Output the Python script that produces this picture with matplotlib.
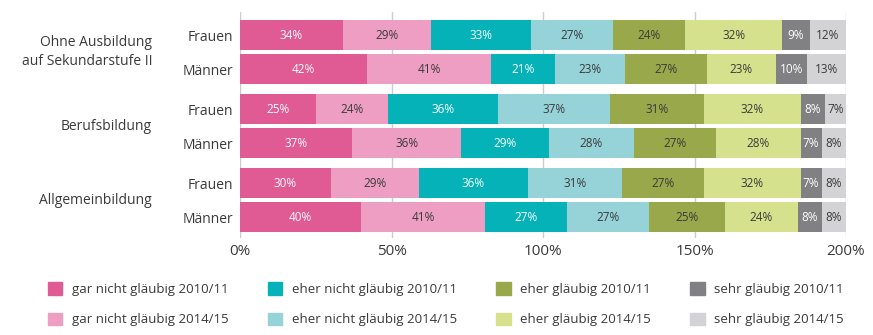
import matplotlib.pyplot as plt
from matplotlib.patches import Patch

plt.rcParams['font.family'] = ['Open Sans', 'DejaVu Sans']

# row labels and groups
groups = ['Ohne Ausbildung\nauf Sekundarstufe II', 'Berufsbildung', 'Allgemeinbildung']
rows = ['Frauen', 'Männer']

# values per row (top to bottom), in percent
gar_10 = [34, 42, 25, 37, 30, 40]
gar_14 = [29, 41, 24, 36, 29, 41]
ehernicht_10 = [33, 21, 36, 29, 36, 27]
ehernicht_14 = [27, 23, 37, 28, 31, 27]
eher_10 = [24, 27, 31, 27, 27, 25]
eher_14 = [32, 23, 32, 28, 32, 24]
sehr_10 = [9, 10, 8, 7, 7, 8]
sehr_14 = [12, 13, 7, 8, 8, 8]

series = [gar_10, gar_14, ehernicht_10, ehernicht_14, eher_10, eher_14, sehr_10, sehr_14]
names = ['gar nicht gläubig 2010/11', 'gar nicht gläubig 2014/15',
         'eher nicht gläubig 2010/11', 'eher nicht gläubig 2014/15',
         'eher gläubig 2010/11', 'eher gläubig 2014/15',
         'sehr gläubig 2010/11', 'sehr gläubig 2014/15']
colors = ['#E05A93', '#EE9EC2', '#05B2B7', '#95D3D9',
          '#98A84A', '#D5E18D', '#818184', '#D3D3D5']
txt_colors = ['white', '#3a3a3a', 'white', '#3a3a3a',
              '#3a3a3a', '#3a3a3a', 'white', '#3a3a3a']

ypos = [g * 2.18 + r for g in range(3) for r in range(2)]

fig = plt.figure(figsize=(8.73, 3.35), dpi=100)
ax = fig.add_axes([240 / 873, 1 - 238 / 335, 606 / 873, 226 / 335])

left = [0] * 6
for vals, col, tc in zip(series, colors, txt_colors):
    ax.barh(ypos, vals, left=left, height=0.88, color=col, zorder=2)
    for y, l, v in zip(ypos, left, vals):
        ax.text(l + v / 2, y, f'{v}%', ha='center', va='center',
                color=tc, fontsize=8.5, zorder=3)
    left = [l + v for l, v in zip(left, vals)]

ax.set_xlim(0, 200)
ax.set_ylim(5.97, -0.68)
ax.set_xticks([0, 50, 100, 150, 200])
ax.set_xticklabels(['0%', '50%', '100%', '150%', '200%'], fontsize=11, color='#3a3a3a')
ax.tick_params(axis='x', length=0, pad=4)
ax.set_yticks(ypos)
ax.set_yticklabels(rows * 3, fontsize=10, color='#3a3a3a')
ax.tick_params(axis='y', length=0, pad=5)
ax.grid(axis='x', color='#cccccc', linewidth=1, zorder=0)
for s in ax.spines.values():
    s.set_visible(False)

for g, name in enumerate(groups):
    ax.text(-29, g * 2.18 + 0.5, name, ha='right', va='center',
            fontsize=10, color='#3a3a3a', linespacing=1.3)

handles = [Patch(color=c) for c in colors]
fig.legend(handles, names, ncol=4, loc='lower left', bbox_to_anchor=(36 / 873, -0.01),
           frameon=False, fontsize=9.5, labelcolor='#3a3a3a',
           handlelength=1.1, handleheight=1.1, handletextpad=0.7,
           columnspacing=3.0, labelspacing=1.25)

fig.savefig('out.png', dpi=100)
